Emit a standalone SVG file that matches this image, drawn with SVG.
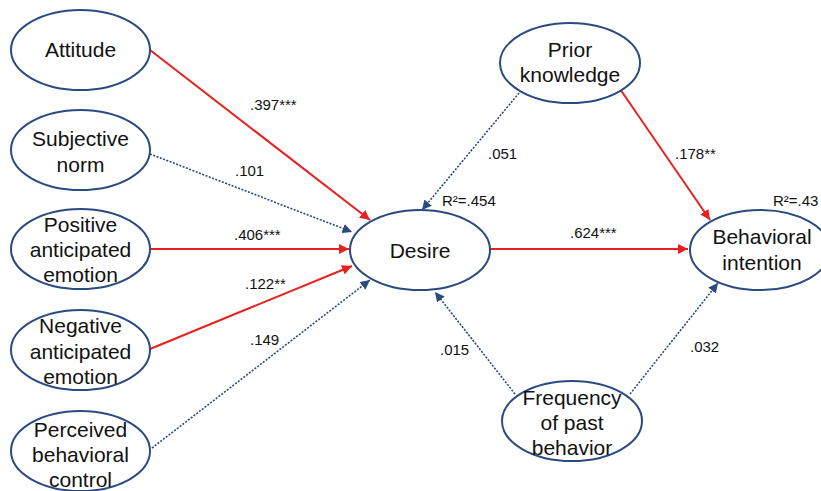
<svg xmlns="http://www.w3.org/2000/svg" width="821" height="491" viewBox="0 0 821 491">
<style>
.node ellipse{fill:#fff;stroke:#2a4a80;stroke-width:2}
.node text{font-family:"Liberation Sans",Arial,sans-serif;font-size:21px;fill:#111;text-anchor:middle}
.lbl{font-family:"Liberation Sans",Arial,sans-serif;font-size:15px;fill:#111}
.sig{stroke:#e8211f;stroke-width:2;fill:none;marker-end:url(#ar)}
.ns{stroke:#2a4a80;stroke-width:1.6;stroke-dasharray:2 1.5;fill:none;marker-end:url(#ab)}
</style>
<defs>
<marker id="ar" viewBox="0 0 10 10" refX="10" refY="5" markerWidth="5" markerHeight="5" orient="auto" markerUnits="strokeWidth"><path d="M0,0 L10,5 L0,10 z" fill="#e8211f"/></marker>
<marker id="ab" viewBox="0 0 10 10" refX="10" refY="5" markerWidth="6" markerHeight="6" orient="auto" markerUnits="strokeWidth"><path d="M0,0 L10,5 L0,10 z" fill="#2a4a80"/></marker>
</defs>
<rect width="821" height="491" fill="#fff"/>
<g id="connectors">
<line class="sig" x1="150" y1="50" x2="370" y2="220"/>
<line class="ns" x1="150" y1="154" x2="352" y2="232"/>
<line class="sig" x1="150" y1="249" x2="349" y2="249"/>
<line class="sig" x1="150" y1="349" x2="352" y2="266"/>
<line class="ns" x1="152" y1="448" x2="370" y2="280"/>
<line class="ns" x1="519" y1="93" x2="422" y2="210"/>
<line class="sig" x1="620" y1="89" x2="710" y2="220"/>
<line class="sig" x1="490" y1="249" x2="688" y2="249"/>
<line class="ns" x1="515" y1="394" x2="435" y2="292"/>
<line class="ns" x1="630" y1="394" x2="718" y2="283"/>
</g>
<g id="labels">
<text class="lbl" x="250" y="110">.397***</text>
<text class="lbl" x="235" y="176">.101</text>
<text class="lbl" x="234" y="240">.406***</text>
<text class="lbl" x="245" y="289">.122**</text>
<text class="lbl" x="250" y="345">.149</text>
<text class="lbl" x="488" y="159">.051</text>
<text class="lbl" x="442" y="206">R²=.454</text>
<text class="lbl" x="570" y="238">.624***</text>
<text class="lbl" x="675" y="159">.178**</text>
<text class="lbl" x="773" y="206">R²=.43</text>
<text class="lbl" x="440" y="355">.015</text>
<text class="lbl" x="690" y="352">.032</text>
</g>
<g id="attitude" class="node"><ellipse cx="80.5" cy="50" rx="69.5" ry="40"/><text x="80.5" y="57">Attitude</text></g>
<g id="subjective-norm" class="node"><ellipse cx="80.5" cy="150" rx="69.5" ry="40"/><text x="80.5" y="146">Subjective</text><text x="80.5" y="172">norm</text></g>
<g id="positive" class="node"><ellipse cx="80.5" cy="249" rx="69.5" ry="40"/><text x="80.5" y="232">Positive</text><text x="80.5" y="257">anticipated</text><text x="80.5" y="282">emotion</text></g>
<g id="negative" class="node"><ellipse cx="80.5" cy="350" rx="69.5" ry="40"/><text x="80.5" y="333">Negative</text><text x="80.5" y="359">anticipated</text><text x="80.5" y="384">emotion</text></g>
<g id="perceived" class="node"><ellipse cx="80.5" cy="451" rx="69.5" ry="40"/><text x="80.5" y="437">Perceived</text><text x="80.5" y="462">behavioral</text><text x="80.5" y="487">control</text></g>
<g id="desire" class="node"><ellipse cx="420" cy="250" rx="70" ry="40"/><text x="420" y="258">Desire</text></g>
<g id="prior-knowledge" class="node"><ellipse cx="570" cy="63" rx="70" ry="40"/><text x="570" y="57">Prior</text><text x="570" y="82">knowledge</text></g>
<g id="behavioral-intention" class="node"><ellipse cx="760" cy="250" rx="70" ry="40"/><text x="762" y="244">Behavioral</text><text x="762" y="270">intention</text></g>
<g id="frequency" class="node"><ellipse cx="572" cy="421" rx="70" ry="40"/><text x="572" y="405">Frequency</text><text x="572" y="430">of past</text><text x="572" y="455">behavior</text></g>
</svg>
